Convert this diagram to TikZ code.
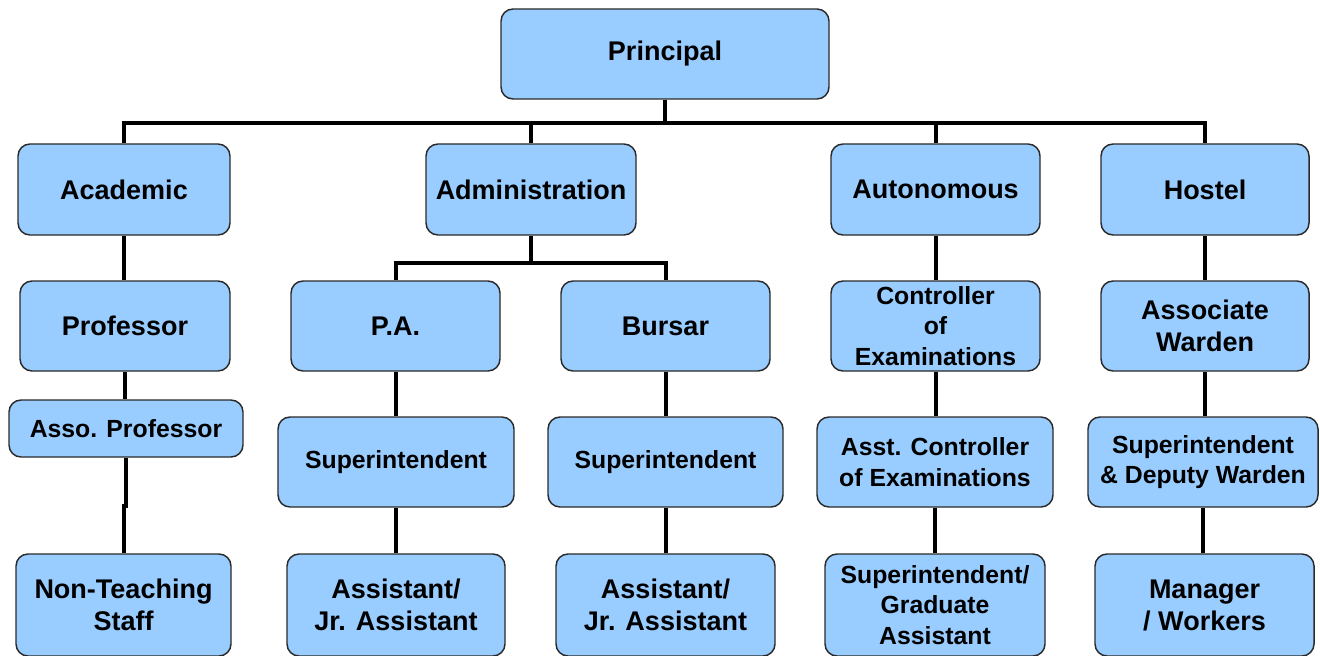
\documentclass[tikz,border=0pt]{standalone}
\usepackage{fontspec}
\setmainfont{Liberation Sans}
\definecolor{boxfill}{HTML}{99CCFF}
\definecolor{boxline}{HTML}{2A2A2A}
\newcommand{\bigf}{\fontsize{20.25}{24}\selectfont\bfseries}
\newcommand{\smallf}{\fontsize{18.6}{23}\selectfont\bfseries}
\tikzset{
  box/.style={draw=boxline, fill=boxfill, line width=1.1pt, rounded corners=9pt,
              align=center, inner sep=0pt, font=\bigf},
  sm/.style={font=\smallf},
  sz/.style 2 args={minimum width=#1*0.75pt, minimum height=#2*0.75pt},
  conn/.style={draw=black, line width=3pt}
}
\begin{document}
\begin{tikzpicture}[x=0.75pt,y=-0.75pt]
\useasboundingbox (0,0) rectangle (1320,656);
\clip (0,0) rectangle (1320,656);
\coordinate (bus) at (665,123);
\coordinate (bus2) at (531,263);
% nodes
\node[box,sz={328}{90}] (pri) at (665,54) {Principal};
\node[box,sz={212}{91}] (aca) at (124,189.5) {Academic};
\node[box,sz={210}{91}] (adm) at (531,189.5) {Administration};
\node[box,sz={209}{91}] (aut) at (935.5,189.5) {Autonomous};
\node[box,sz={208}{91}] (hos) at (1205,189.5) {Hostel};
\node[box,sz={210}{90}] (pro) at (125,326) {Professor};
\node[box,sz={209}{90}] (pa) at (395.5,326) {P.A.};
\node[box,sz={209}{90}] (bur) at (665.5,326) {Bursar};
\node[box,sm,sz={209}{90}] (coe) at (935.5,326) {Controller\\of\\Examinations};
\node[box,sz={208}{90}] (asw) at (1205,326) {Associate\\Warden};
\node[box,sm,sz={234}{57}] (apr) at (126,428.5) {Asso. Professor};
\node[box,sm,sz={236}{90}] (sup1) at (396,462) {Superintendent};
\node[box,sm,sz={235}{90}] (sup2) at (665.5,462) {Superintendent};
\node[box,sm,sz={236}{90}] (acoe) at (935,462) {Asst. Controller\\of Examinations};
\node[box,sm,sz={230}{90}] (sdw) at (1203,462) {Superintendent\\\& Deputy Warden};
\node[box,sz={215}{102}] (nts) at (123.5,605) {Non-Teaching\\Staff};
\node[box,sz={218}{102}] (as1) at (396,605) {Assistant/\\Jr. Assistant};
\node[box,sz={219}{102}] (as2) at (665.5,605) {Assistant/\\Jr. Assistant};
\node[box,sm,sz={220}{102}] (sga) at (935,605) {Superintendent/\\Graduate\\Assistant};
\node[box,sz={219}{102}] (man) at (1204.5,605) {Manager\\/ Workers};
% connectors
\draw[conn] (pri.south) -- (bus);
\draw[conn] (aca.north) |- (bus) -| (hos.north);
\draw[conn] (adm.north) -- (adm.north |- bus);
\draw[conn] (aut.north) -- (aut.north |- bus);
\draw[conn] (adm.south) -- (bus2);
\draw[conn] (pa.north) |- (bus2) -| (bur.north);
\draw[conn] (aca.south) -- (aca.south |- pro.north);
\draw[conn] (pro.south) -- (pro.south |- apr.north);
\draw[conn] (apr.south) -- ++(0,48) -| (nts.north);
\draw[conn] (pa.south) -- (pa.south |- sup1.north);
\draw[conn] (sup1.south) -- (sup1.south |- as1.north);
\draw[conn] (bur.south) -- (bur.south |- sup2.north);
\draw[conn] (sup2.south) -- (sup2.south |- as2.north);
\draw[conn] (aut.south) -- (aut.south |- coe.north);
\draw[conn] (coe.south) -- (coe.south |- acoe.north);
\draw[conn] (acoe.south) -- (acoe.south |- sga.north);
\draw[conn] (hos.south) -- (hos.south |- asw.north);
\draw[conn] (asw.south) -- (asw.south |- sdw.north);
\draw[conn] (sdw.south) -- (sdw.south |- man.north);
\end{tikzpicture}
\end{document}
